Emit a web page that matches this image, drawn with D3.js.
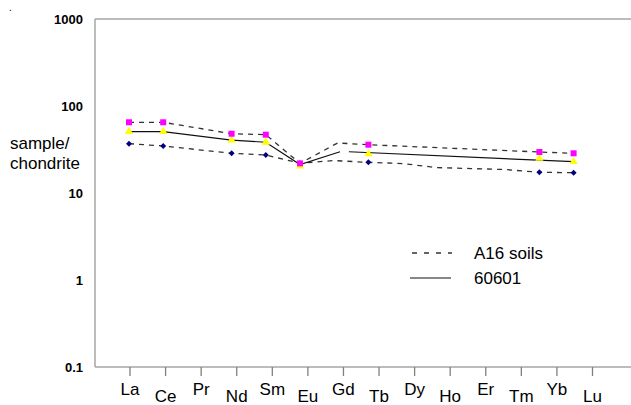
<!DOCTYPE html>
<html>
<head>
<meta charset="utf-8">
<script src="https://cdn.jsdelivr.net/npm/d3@7"></script>
<style>
  html, body { margin: 0; padding: 0; background: #fff; }
  svg { display: block; }
  text { font-family: "Liberation Sans", Arial, sans-serif; }
</style>
</head>
<body>
<svg id="chart" width="631" height="405"></svg>
<script>
// ---------- data ----------
const elements = ["La","Ce","Pr","Nd","Sm","Eu","Gd","Tb","Dy","Ho","Er","Tm","Yb","Lu"];
const yTicks = [0.1, 1, 10, 100, 1000];
const yTickLabels = ["0.1", "1", "10", "100", "1000"];

// marker positions (element index) and values
const markerIdx = [0, 1, 3, 4, 5, 7, 12, 13];
const a16Max   = [65, 65, 48, 46.8, 21.9, 35.9, 29.6, 28.6];
const s60601   = [50.7, 50.7, 40.6, 38.3, 20.4, 28.1, 25.1, 22.9];
const a16Min   = [36.9, 34.7, 28.6, 27.3, 22.0, 22.5, 17.3, 17.1];

// line traces (position in element index units, value)
const upperLineX = [0, 1, 3, 4, 5, 6.1, 7, 12, 13];
const upperLineV = [65, 65, 48, 46.8, 21.9, 37.6, 35.9, 29.6, 28.6];
const lowerLineX = [0, 1, 3, 4, 5, 6, 7, 8, 9, 10, 11, 12, 13];
const lowerLineV = [36.9, 34.7, 28.6, 27.3, 22.0, 23.6, 22.5, 21.8, 19.6, 19.1, 18.6, 17.3, 17.1];
const solidLine1X = [0, 1, 3, 4, 5, 6.17];
const solidLine1V = [50.7, 50.7, 40.6, 38.3, 21.2, 29.8];
const solidLine2X = [6.43, 13];
const solidLine2V = [29.8, 22.9];

const legendLabels = ["A16 soils", "60601"];
const yTitle = ["sample/", "chondrite"];

// ---------- layout ----------
const svg = d3.select("#chart");
const mLeft = 95, mTop = 19, mBottom = 367, mRight = 631;

const y = d3.scaleLog().domain([0.1, 1000]).range([mBottom, mTop]);
const xData = d3.scaleLinear().domain([0, 13]).range([129, 573.6]);
const xAxisScale = d3.scalePoint().domain(elements).range([129.5, 592]);

// frame
const frameColor = "#a6a6a6";
svg.append("line").attr("x1", mLeft).attr("x2", mLeft).attr("y1", mTop).attr("y2", mBottom)
  .attr("stroke", frameColor).attr("stroke-width", 1.5);
svg.append("line").attr("x1", mLeft).attr("x2", mRight).attr("y1", mTop).attr("y2", mTop)
  .attr("stroke", frameColor).attr("stroke-width", 1.5);
svg.append("line").attr("x1", mLeft).attr("x2", mRight).attr("y1", mBottom).attr("y2", mBottom)
  .attr("stroke", frameColor).attr("stroke-width", 1.5);

// y axis
const yAxis = d3.axisLeft(y).tickValues(yTicks).tickSize(0).tickPadding(12)
  .tickFormat((d, i) => yTickLabels[i]);
const gy = svg.append("g").attr("transform", `translate(${mLeft},0)`).call(yAxis);
gy.select(".domain").remove();
gy.selectAll("text").attr("font-size", 13).attr("font-weight", "bold")
  .attr("fill", "#000").attr("font-family", "Liberation Sans, Arial, sans-serif");

// x axis
const xAxis = d3.axisBottom(xAxisScale).tickSize(9).tickPadding(0);
const gx = svg.append("g").attr("transform", `translate(0,${mBottom})`).call(xAxis);
gx.select(".domain").remove();
gx.selectAll(".tick line").attr("stroke", "#808080").attr("stroke-width", 1.3);
gx.selectAll(".tick text")
  .attr("font-size", 17).attr("fill", "#000")
  .attr("font-family", "Liberation Sans, Arial, sans-serif")
  .attr("dy", null)
  .attr("y", (d, i) => i % 2 === 0 ? 28 : 34.5);

// y title
svg.append("g").selectAll("text").data(yTitle).join("text")
  .attr("x", 10).attr("y", (d, i) => 149 + i * 20)
  .attr("font-size", 17).attr("fill", "#000").text(d => d);

// tiny dot at top-left
svg.append("text").attr("x", 9).attr("y", 11).attr("font-size", 10).text(".");

// lines
const lineGen = d3.line().x(d => xData(d[0])).y(d => y(d[1]));
const zip = (xs, vs) => xs.map((x, i) => [x, vs[i]]);

svg.append("path").datum(zip(upperLineX, upperLineV)).attr("d", lineGen)
  .attr("fill", "none").attr("stroke", "#333").attr("stroke-width", 1.3).attr("stroke-dasharray", "5,5");
svg.append("path").datum(zip(lowerLineX, lowerLineV)).attr("d", lineGen)
  .attr("fill", "none").attr("stroke", "#333").attr("stroke-width", 1.3).attr("stroke-dasharray", "5,5");
svg.append("path").datum(zip(solidLine1X, solidLine1V)).attr("d", lineGen)
  .attr("fill", "none").attr("stroke", "#111").attr("stroke-width", 1.2);
svg.append("path").datum(zip(solidLine2X, solidLine2V)).attr("d", lineGen)
  .attr("fill", "none").attr("stroke", "#111").attr("stroke-width", 1.2);

// markers
const sym = (type, size) => d3.symbol().type(type).size(size)();
svg.append("g").selectAll("path").data(zip(markerIdx, a16Min)).join("path")
  .attr("d", sym(d3.symbolSquare, 18))
  .attr("transform", d => `translate(${xData(d[0])},${y(d[1])}) rotate(45)`)
  .attr("fill", "#000080");
svg.append("g").selectAll("path").data(zip(markerIdx, s60601)).join("path")
  .attr("d", sym(d3.symbolTriangle, 30))
  .attr("transform", d => `translate(${xData(d[0])},${y(d[1])})`)
  .attr("fill", "#ffff00");
svg.append("g").selectAll("path").data(zip(markerIdx, a16Max)).join("path")
  .attr("d", sym(d3.symbolSquare, 36))
  .attr("transform", d => `translate(${xData(d[0])},${y(d[1])})`)
  .attr("fill", "#ff00ff");

// legend
const legend = svg.append("g");
legend.append("line").attr("x1", 412).attr("x2", 452).attr("y1", 253).attr("y2", 253)
  .attr("stroke", "#333").attr("stroke-width", 1.3).attr("stroke-dasharray", "5,7");
legend.append("line").attr("x1", 410).attr("x2", 451).attr("y1", 278).attr("y2", 278)
  .attr("stroke", "#111").attr("stroke-width", 1.2);
legend.selectAll("text.lg").data(legendLabels).join("text").attr("class", "lg")
  .attr("x", 474).attr("y", (d, i) => 258.5 + i * 25)
  .attr("font-size", 17).attr("fill", "#000").text(d => d);
</script>
</body>
</html>
